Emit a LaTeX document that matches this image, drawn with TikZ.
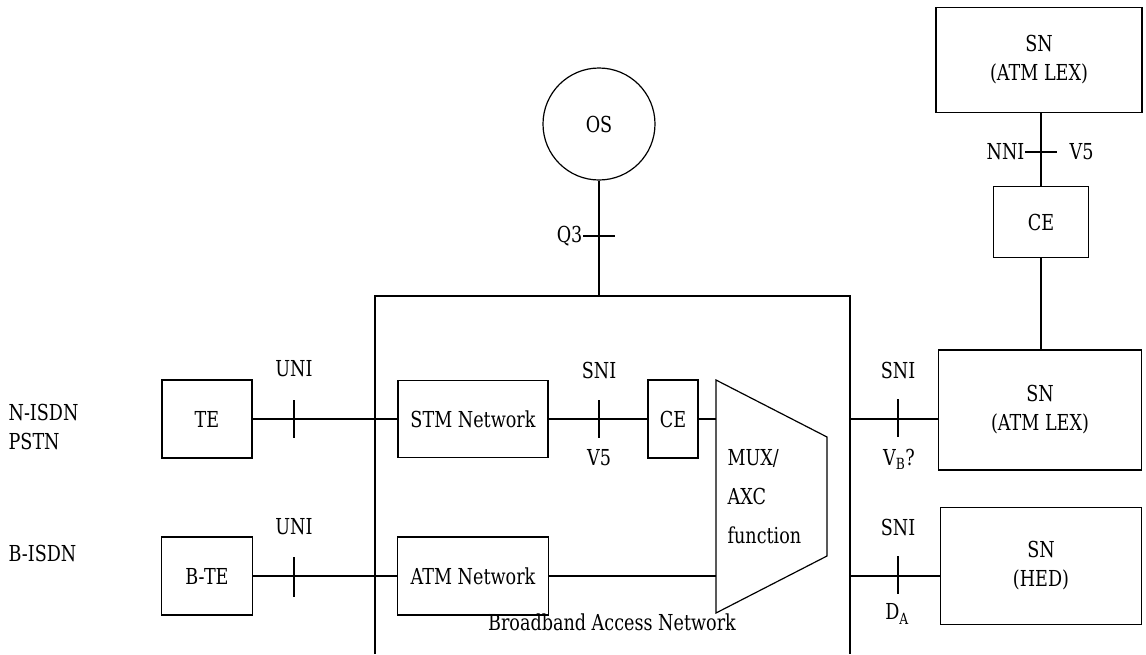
\documentclass[tikz,border=0pt]{standalone}
\usepackage{fontspec}
\setmainfont{DejaVu Serif}[FakeStretch=0.8]
\begin{document}
\begin{tikzpicture}[x=1pt,y=-1pt,line width=1.2pt,font=\fontsize{22}{29}\selectfont]
\tikzset{
  box/.style={draw,inner sep=0pt,align=center},
  lbl/.style={inner sep=0pt,align=center},
  tick/.style={line width=1.2pt}
}
\useasboundingbox (0,0) rectangle (1146,654);
% OS
\node[draw,circle,minimum size=112pt,inner sep=0pt] (os) at (599,124) {OS};
% big access network box
\coordinate (bt) at (599,296);
\draw (375,654) -- (375,296) -- (850,296) -- (850,654);
\node[lbl] (ban) at (612,622) {Broadband Access Network};
\draw (os.south) -- (bt);
\draw[tick] (583,236) -- (615,236);
\node[lbl,anchor=east] (q3) at (583,236) {Q3};
% left labels
\node[lbl,anchor=west,align=left] (nisdn) at (8,427) {N-ISDN\\PSTN};
\node[lbl,anchor=west] (bisdn) at (8,553) {B-ISDN};
% TE boxes
\node[box,minimum width=90pt,minimum height=78pt] (te) at (207,419) {TE};
\node[box,minimum width=91pt,minimum height=78pt] (bte) at (207,576) {B-TE};
% networks
\node[box,minimum width=150pt,minimum height=77pt] (stm) at (473,419) {STM Network};
\node[box,minimum width=151pt,minimum height=78pt] (atm) at (473,576) {ATM Network};
\draw (te) -- (stm);
\draw (bte) -- (atm);
\draw[tick] (294,400) -- (294,438);
\draw[tick] (294,557) -- (294,597);
\node[lbl] (uni1) at (294,369) {UNI};
\node[lbl] (uni2) at (294,527) {UNI};
% CE inside
\node[box,minimum width=50pt,minimum height=78pt] (ce) at (673,419) {CE};
\draw (stm) -- (ce);
\draw[tick] (599,400) -- (599,438);
\node[lbl] (sni1) at (599,370) {SNI};
\node[lbl] (v5a) at (599,458) {V5};
% MUX trapezoid
\coordinate (m1) at (716,419);
\coordinate (m2) at (716,576);
\draw (716,380) -- (827,437) -- (827,556) -- (716,613) -- cycle;
\node[lbl,anchor=west,align=left,font=\fontsize{22}{39}\selectfont] (mux) at (727,497) {MUX/\\AXC\\function};
\draw (ce) -- (m1);
\draw (atm) -- (m2);
% right side SN boxes
\node[box,minimum width=203pt,minimum height=120pt] (sn1) at (1040,410) {SN\\(ATM LEX)};
\node[box,minimum width=201pt,minimum height=117pt] (sn2) at (1041,566) {SN\\(HED)};
\node[box,minimum width=206pt,minimum height=105pt] (sn0) at (1039,60) {SN\\(ATM LEX)};
\node[box,minimum width=95pt,minimum height=71pt] (ce2) at (1041,222) {CE};
\coordinate (r1) at (850,419);
\coordinate (r2) at (850,576);
\draw (r1) -- (sn1.west |- r1);
\draw (r2) -- (sn2.west |- r2);
\draw[tick] (898,399) -- (898,437);
\draw[tick] (898,556) -- (898,594);
\node[lbl] (sni2) at (898,370) {SNI};
\node[lbl] (vb) at (899,459) {V\textsubscript{B}?};
\node[lbl] (sni3) at (898,527) {SNI};
\node[lbl] (da) at (897,614) {D\textsubscript{A}};
\draw (sn0.south -| ce2) -- (ce2);
\draw (ce2) -- (sn1.north -| ce2);
\draw[tick] (1025,152) -- (1057,152);
\node[lbl,anchor=east] (nni) at (1025,152) {NNI};
\node[lbl,anchor=west] (v5b) at (1069,152) {V5};
\end{tikzpicture}
\end{document}
